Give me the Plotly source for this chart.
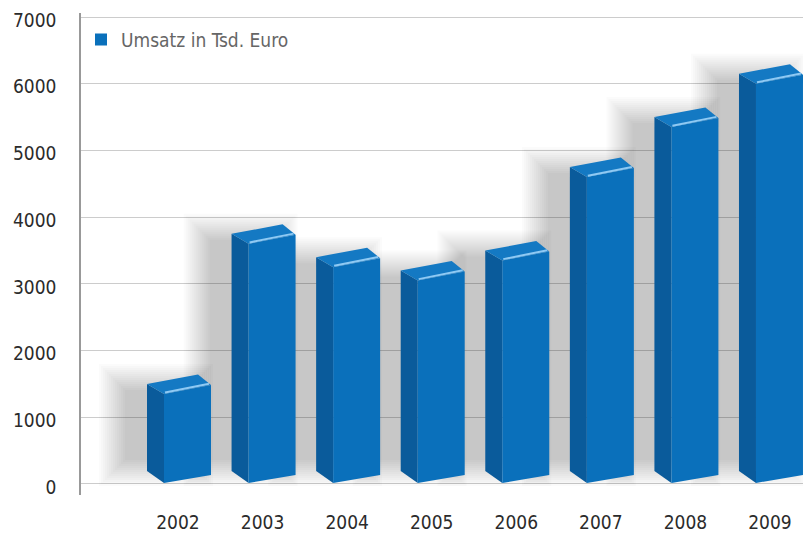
import plotly.graph_objects as go

# ---- data ----
years = ["2002", "2003", "2004", "2005", "2006", "2007", "2008", "2009"]
umsatz = [1500, 3750, 3400, 3200, 3500, 4750, 5500, 6150]
y_ticks = [0, 1000, 2000, 3000, 4000, 5000, 6000, 7000]
series_name = "Umsatz in Tsd. Euro"

# ---- geometry / style constants (pixel-ish conversions) ----
PX_X = 1 / 84.57     # data units per pixel on x
PX_Y = 1000 / 66.6   # data units per pixel on y

LBx, FLx, BRx, FRx = -31 * PX_X, -14 * PX_X, 20 * PX_X, 33 * PX_X

FONT = "Liberation Sans Narrow, DejaVu Sans Condensed, Roboto, sans-serif"
C_FRONT = "#0a70bb"
C_LEFT = "#0a5b9b"
C_TOP = "#1479c3"
C_HI = "rgba(150,205,245,0.95)"

fig = go.Figure()

def poly(xs, ys, color, **kw):
    fig.add_trace(go.Scatter(x=xs + [xs[0]], y=ys + [ys[0]], mode="lines",
                             fill="toself", fillcolor=color,
                             line=dict(width=0, color=color),
                             hoverinfo="skip", showlegend=False, **kw))

# soft shadows (layered translucent rectangles)
N = 14
for i, v in enumerate(umsatz):
    for k in range(N):
        e = (N - 1 - k) * 2.0
        x0 = i + LBx - (22 + e) * PX_X
        x1 = i + LBx + (40 + e) * PX_X
        y0 = (24 - e) * PX_Y
        y1 = v + (-6 + e) * PX_Y
        poly([x0, x1, x1, x0], [y0, y0, y1, y1], "rgba(0,0,0,0.017)")

# bars (3D boxes)
for i, v in enumerate(umsatz):
    # left side face
    poly([i + LBx, i + FLx, i + FLx, i + LBx],
         [v, v - 10 * PX_Y, 1 * PX_Y, 13 * PX_Y], C_LEFT)
    # front face
    poly([i + FLx, i + FRx, i + FRx, i + FLx],
         [v - 10 * PX_Y, v - 1 * PX_Y, 9 * PX_Y, 1 * PX_Y], C_FRONT)
    # top face
    poly([i + LBx, i + BRx, i + FRx, i + FLx],
         [v, v + 9.5 * PX_Y, v - 1 * PX_Y, v - 10 * PX_Y], C_TOP)
    # highlight along the front top edge
    fig.add_trace(go.Scatter(
        x=[i + FLx + 1 * PX_X, i + FRx - 2 * PX_X],
        y=[v - 8.6 * PX_Y, v + 0.2 * PX_Y],
        mode="lines", line=dict(color=C_HI, width=2),
        hoverinfo="skip", showlegend=False))

# legend entry
fig.add_trace(go.Scatter(x=[None], y=[None], mode="markers", name=series_name,
                         marker=dict(symbol="square", size=14, color=C_FRONT),
                         showlegend=True))

fig.update_layout(
    width=803, height=528,
    margin=dict(l=73, r=0, t=5, b=41, autoexpand=False),
    paper_bgcolor="white", plot_bgcolor="white",
    font=dict(family=FONT, size=19, color="#2b2b2b"),
    showlegend=True,
    legend=dict(x=0.0, y=0.984, xanchor="left", yanchor="top",
                bgcolor="rgba(0,0,0,0)", font=dict(size=19, color="#666666"),
                itemsizing="constant", itemwidth=30),
    xaxis=dict(range=[-1.147, 7.485], tickmode="array",
               tickvals=list(range(len(years))), ticktext=years,
               showgrid=False, zeroline=False, showline=False, automargin=False,
               ticks="", ticklabelstandoff=14, fixedrange=True,
               ticklabeloverflow="allow"),
    yaxis=dict(range=[-165, 7060], tickmode="array", tickvals=y_ticks,
               ticktext=[str(t) for t in y_ticks],
               showgrid=True, gridcolor="#cccccc", gridwidth=1, automargin=False,
               zeroline=False, showline=True, linecolor="#999999", linewidth=1.5,
               ticks="", ticklabelstandoff=19, ticklabelshift=3, fixedrange=True,
               ticklabeloverflow="allow"),
)

fig.write_html("out.html")
